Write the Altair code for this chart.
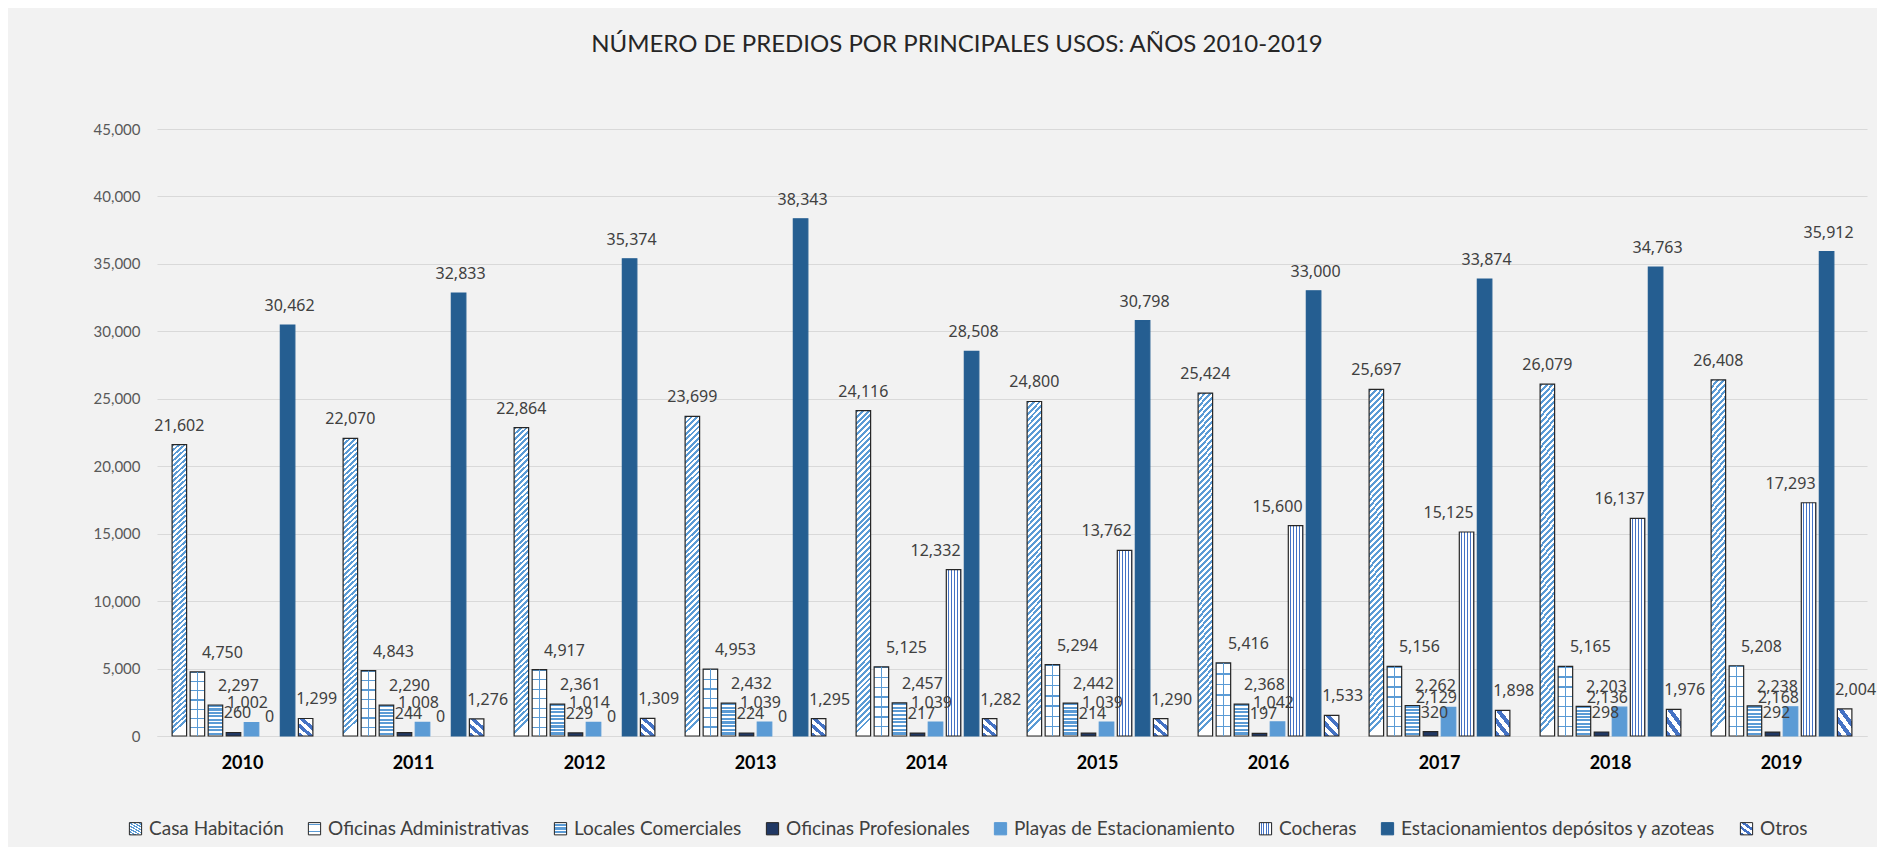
import json
import altair as alt
import pandas as pd

# ---------------- data ----------------
years = ["2010", "2011", "2012", "2013", "2014", "2015", "2016", "2017", "2018", "2019"]
series = [
    "Casa Habitación",
    "Oficinas Administrativas",
    "Locales Comerciales",
    "Oficinas Profesionales",
    "Playas de Estacionamiento",
    "Cocheras",
    "Estacionamientos depósitos y azoteas",
    "Otros",
]
casa_habitacion = [21602, 22070, 22864, 23699, 24116, 24800, 25424, 25697, 26079, 26408]
oficinas_admin = [4750, 4843, 4917, 4953, 5125, 5294, 5416, 5156, 5165, 5208]
locales_comerciales = [2297, 2290, 2361, 2432, 2457, 2442, 2368, 2262, 2203, 2238]
oficinas_prof = [260, 244, 229, 224, 217, 214, 197, 320, 298, 292]
playas_estac = [1002, 1008, 1014, 1039, 1039, 1039, 1042, 2129, 2136, 2168]
cocheras = [0, 0, 0, 0, 12332, 13762, 15600, 15125, 16137, 17293]
estac_depositos = [30462, 32833, 35374, 38343, 28508, 30798, 33000, 33874, 34763, 35912]
otros = [1299, 1276, 1309, 1295, 1282, 1290, 1533, 1898, 1976, 2004]
y_ticks = [0, 5000, 10000, 15000, 20000, 25000, 30000, 35000, 40000, 45000]

all_values = [casa_habitacion, oficinas_admin, locales_comerciales, oficinas_prof,
              playas_estac, cocheras, estac_depositos, otros]
rows = []
for s, vals in zip(series, all_values):
    for yr, v in zip(years, vals):
        rows.append({"anio": yr, "uso": s, "valor": v})
df = pd.DataFrame(rows)

# ---------------- styles ----------------
WHITE = "#FFFFFF"
LBLUE = "#5B9BD5"
MBLUE = "#4472C4"
NAVY = "#203864"
DBLUE = "#255E91"
OUTLINE = "#262626"


def stripes(c1, c2, n, frac, x1, y1, x2, y2):
    stops = []
    for i in range(n):
        a = i / n
        b = (i + frac) / n
        e = (i + 1) / n
        stops += [
            {"offset": round(a, 5), "color": c1},
            {"offset": round(b, 5), "color": c1},
            {"offset": round(b, 5), "color": c2},
            {"offset": round(e, 5), "color": c2},
        ]
    return {"gradient": "linear", "x1": x1, "y1": y1, "x2": x2, "y2": y2, "stops": stops}


g_casa = stripes(LBLUE, WHITE, 57, 0.5, 0, 0, 0.0446, 1)
g_admin = stripes(LBLUE, WHITE, 7, 0.13, 0, 0, 0, 1)
g_locales = stripes(LBLUE, WHITE, 9, 0.6, 0, 0, 0, 1)
g_cocheras = stripes(WHITE, MBLUE, 5, 0.55, 0, 0, 1, 0)
g_otros = stripes(MBLUE, WHITE, 3, 0.5, 0, 1, 0.725, 0)

fill_range = [
    {"expr": json.dumps(g_casa)},
    {"expr": json.dumps(g_admin)},
    {"expr": json.dumps(g_locales)},
    NAVY,
    LBLUE,
    {"expr": json.dumps(g_cocheras)},
    DBLUE,
    {"expr": json.dumps(g_otros)},
]
stroke_range = [OUTLINE, OUTLINE, OUTLINE, OUTLINE, LBLUE, OUTLINE, DBLUE, OUTLINE]

admin_vline = alt.Gradient(
    gradient="linear", x1=0, y1=0, x2=1, y2=0,
    stops=[
        alt.GradientStop(offset=0, color="rgba(91,155,213,0)"),
        alt.GradientStop(offset=0.45, color="rgba(91,155,213,0)"),
        alt.GradientStop(offset=0.45, color=LBLUE),
        alt.GradientStop(offset=0.56, color=LBLUE),
        alt.GradientStop(offset=0.56, color="rgba(91,155,213,0)"),
        alt.GradientStop(offset=1, color="rgba(91,155,213,0)"),
    ],
)

legend = alt.Legend(
    title=None, orient="none", direction="horizontal", columns=8,
    legendX=-31, legendY=690, columnPadding=21, symbolType="square",
    symbolSize=150, symbolStrokeWidth=1, labelOffset=4, labelLimit=0,
    labelFont="Lato", labelFontSize=19, labelColor="#404040",
)

x_enc = alt.X("anio:N", sort=years,
              scale=alt.Scale(paddingInner=0, paddingOuter=0),
              axis=alt.Axis(title=None, labelAngle=0, ticks=False, domain=True,
                            domainColor="#D9D9D9", labelFont="Lato", labelFontSize=18,
                            labelFontWeight="bold", labelColor="#000000", labelPadding=18))
xo_enc = alt.XOffset("uso:N", sort=series,
                     scale=alt.Scale(domain=series, paddingInner=0.196, paddingOuter=0.838))
y_enc = alt.Y("valor:Q",
              scale=alt.Scale(domain=[0, 45000], nice=False),
              axis=alt.Axis(title=None, values=y_ticks, format=",d", ticks=False, domain=False,
                            grid=True, gridColor="#D9D9D9", gridWidth=1,
                            labelFont="Lato", labelFontSize=15, labelColor="#595959",
                            labelPadding=17))

base = alt.Chart(df).encode(x=x_enc, xOffset=xo_enc, y=y_enc)

bars = base.mark_bar(strokeWidth=1.2).encode(
    fill=alt.Fill("uso:N", sort=series, scale=alt.Scale(domain=series, range=fill_range), legend=legend),
    stroke=alt.Stroke("uso:N", sort=series, scale=alt.Scale(domain=series, range=stroke_range), legend=legend),
).transform_filter("datum.valor > 0")

overlay = base.mark_bar(fill=admin_vline, strokeWidth=0).transform_filter(
    "datum.uso == 'Oficinas Administrativas'"
)


def label_layer(cond, dx, dy):
    return (
        base.mark_text(dx=dx, dy=dy, baseline="middle", font="Noto Sans", fontSize=16, color="#404040")
        .encode(text=alt.Text("valor:Q", format=",d"))
        .transform_filter(cond)
    )


# label nudges (horizontal, px) as placed in the original chart
label_dx = [0, 25, 23, 4, -4, -18, 2, 11]
label_layers = []
for s, dx in zip(series, label_dx):
    cond = "datum.uso == '%s'" % s
    if s == "Cocheras":
        label_layers.append(label_layer(cond + " && datum.valor == 0", 0, -19))
        label_layers.append(label_layer(cond + " && datum.valor > 0", dx, -19))
    elif s == "Playas de Estacionamiento":
        label_layers.append(label_layer(cond + " && datum.valor < 2000", dx, -19))
        label_layers.append(label_layer(cond + " && datum.valor >= 2000", -12, -9))
    else:
        label_layers.append(label_layer(cond, dx, -19))

chart = alt.layer(bars, overlay, *label_layers).properties(
    width=1710,
    height=607,
    title=alt.TitleParams(
        "NÚMERO DE PREDIOS POR PRINCIPALES USOS: AÑOS 2010-2019",
        font="Lato", fontSize=24, fontWeight="normal", color="#262626",
        anchor="middle", dx=-55, offset=65,
    ),
    autosize=alt.AutoSizeParams(type="none"),
    padding={"left": 149, "top": 121, "right": 10, "bottom": 111},
).configure(background="#F2F2F2").configure_view(stroke=None)

chart.save("out.html", embed_options={"renderer": "svg", "actions": False})
